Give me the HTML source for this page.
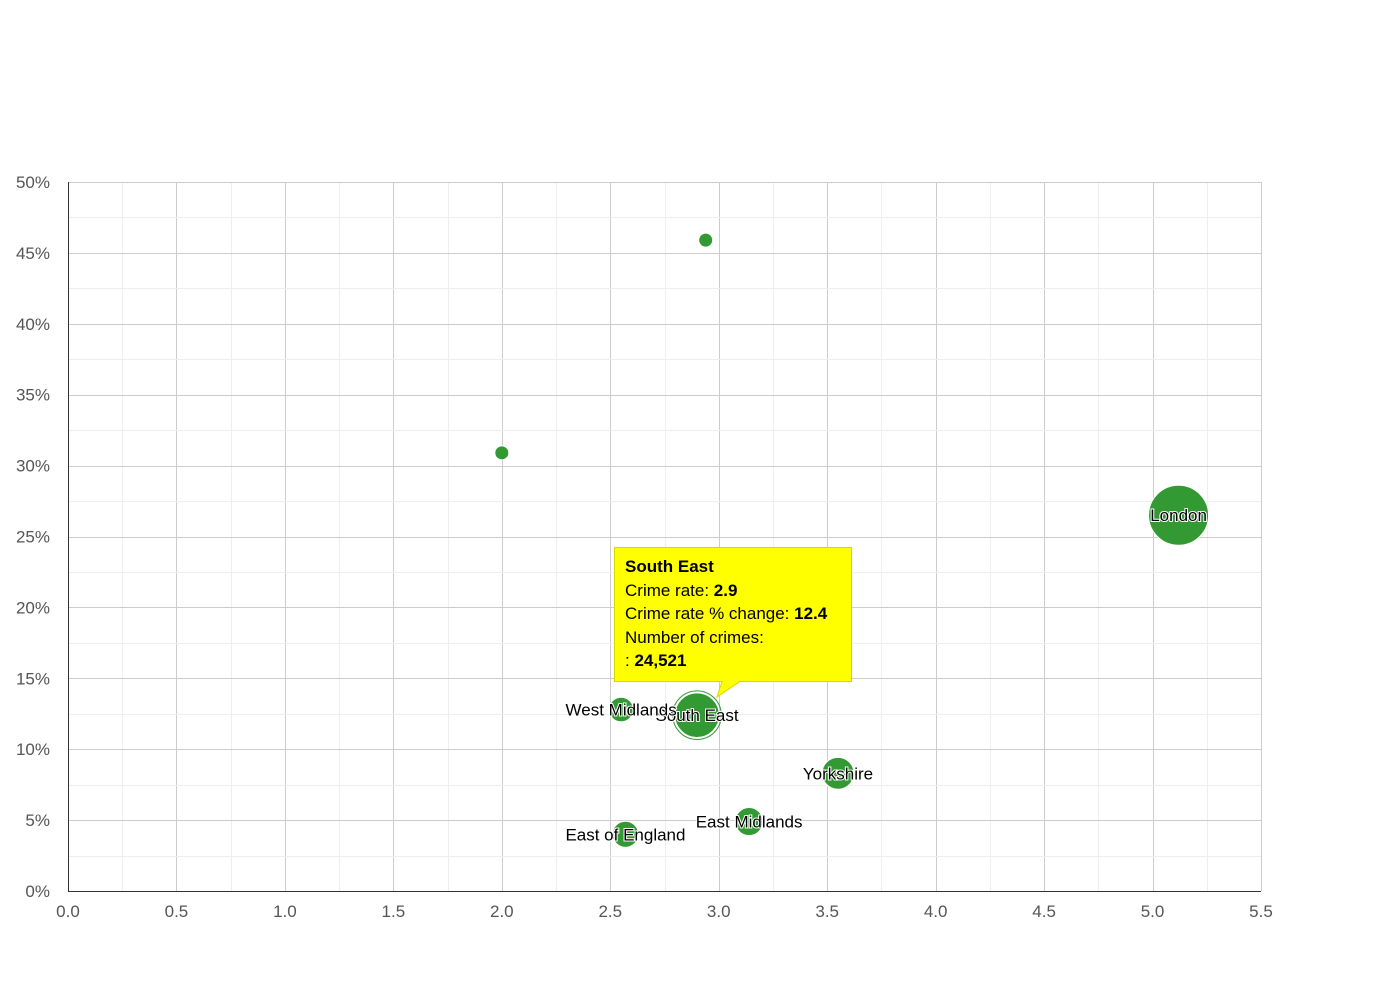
<!DOCTYPE html>
<html><head><meta charset="utf-8"><style>
body{margin:0;background:#fff;font-family:"Liberation Sans",Arial,sans-serif}
svg text{font-family:"Liberation Sans",Arial,sans-serif}
</style></head><body>
<svg id="chart" width="1390" height="980" xmlns="http://www.w3.org/2000/svg">
<g id="grid"></g>
<g id="axes"></g>
<g id="bubbles"></g>
<g id="labels"></g>
<g>
<path d="M614.5 547.5 H851.5 V681.5 H740 L717 697 L722 681.5 H614.5 Z" fill="#ffff00" stroke="#d8d800" stroke-width="1"/>
<text x="625" y="572" font-size="17" font-weight="bold" fill="#000">South East</text>
<text x="625" y="596" font-size="17" fill="#000">Crime rate: <tspan font-weight="bold">2.9</tspan></text>
<text x="625" y="619" font-size="17" fill="#000">Crime rate % change: <tspan font-weight="bold">12.4</tspan></text>
<text x="625" y="643" font-size="17" fill="#000">Number of crimes:</text>
<text x="625" y="666" font-size="17" fill="#000">: <tspan font-weight="bold">24,521</tspan></text>
</g>
</svg>
<script>
const names=["","","London","South East","West Midlands","Yorkshire","East Midlands","East of England"];
const crimeRate=[2.94,2.0,5.12,2.9,2.55,3.55,3.14,2.57];
const pctChange=[45.9,30.9,26.5,12.4,12.8,8.3,4.9,4.0];
const crimes=[1500,2500,275000,152000,46000,78000,60000,52000];
const xTicks=[0,0.5,1,1.5,2,2.5,3,3.5,4,4.5,5,5.5];
const yTicks=[0,5,10,15,20,25,30,35,40,45,50];
const X0=68,X1=1261,Y0=891,Y1=182;
const sx=v=>X0+(v/5.5)*(X1-X0);
const sy=v=>Y0-(v/50)*(Y0-Y1);
const sr=n=>Math.max(7,30*Math.sqrt(n/275000));
const NS="http://www.w3.org/2000/svg";
function mk(t,a,p){const e=document.createElementNS(NS,t);for(const k in a)e.setAttribute(k,a[k]);p.appendChild(e);return e;}
const grid=document.getElementById('grid'),axes=document.getElementById('axes');
for(let v=0;v<=5.5001;v+=0.25){const x=Math.round(sx(v))+0.5;const major=Math.abs(v*2-Math.round(v*2))<1e-6;
 const l=mk('line',{x1:x,x2:x,y1:Y1,y2:Y0,stroke:major?'#cccccc':'#eeeeee'},grid);
 }
for(let v=0;v<=50.001;v+=2.5){const y=Math.round(sy(v))+0.5;const major=Math.abs(v/5-Math.round(v/5))<1e-6;
 const l=mk('line',{x1:X0,x2:X1,y1:y,y2:y,stroke:major?'#cccccc':'#eeeeee'},grid);
 }
const xa=mk('line',{x1:X0,x2:X1,y1:Y0+0.5,y2:Y0+0.5,stroke:'#333'},axes);

const ya=mk('line',{x1:X0+0.5,x2:X0+0.5,y1:Y1,y2:Y0,stroke:'#333'},axes);

xTicks.forEach(v=>{const t=mk('text',{x:sx(v),y:917,'text-anchor':'middle','font-size':17,fill:'#555'},axes);t.textContent=v.toFixed(1);
 });
yTicks.forEach(v=>{const t=mk('text',{x:50,y:sy(v)+6,'text-anchor':'end','font-size':17,fill:'#555'},axes);t.textContent=v+'%';
 });
const bg=document.getElementById('bubbles'),lg=document.getElementById('labels');
crimeRate.forEach((v,i)=>{const cx=sx(v),cy=sy(pctChange[i]),r=sr(crimes[i]);
 const c=mk('circle',{cx:cx,cy:cy,r:r,fill:'#339933',stroke:'#fff','stroke-width':1},bg);
 
 if(names[i]==='South East'){const h=mk('circle',{cx:cx,cy:cy,r:r+2,fill:'none',stroke:'#339933','stroke-width':1},bg);
  }
 if(names[i]){const t=mk('text',{x:cx,y:cy+6,'text-anchor':'middle','font-size':17,fill:'#000',stroke:'#fff','stroke-width':2,'paint-order':'stroke'},lg);t.textContent=names[i];
  }
});
</script>
</body></html>
